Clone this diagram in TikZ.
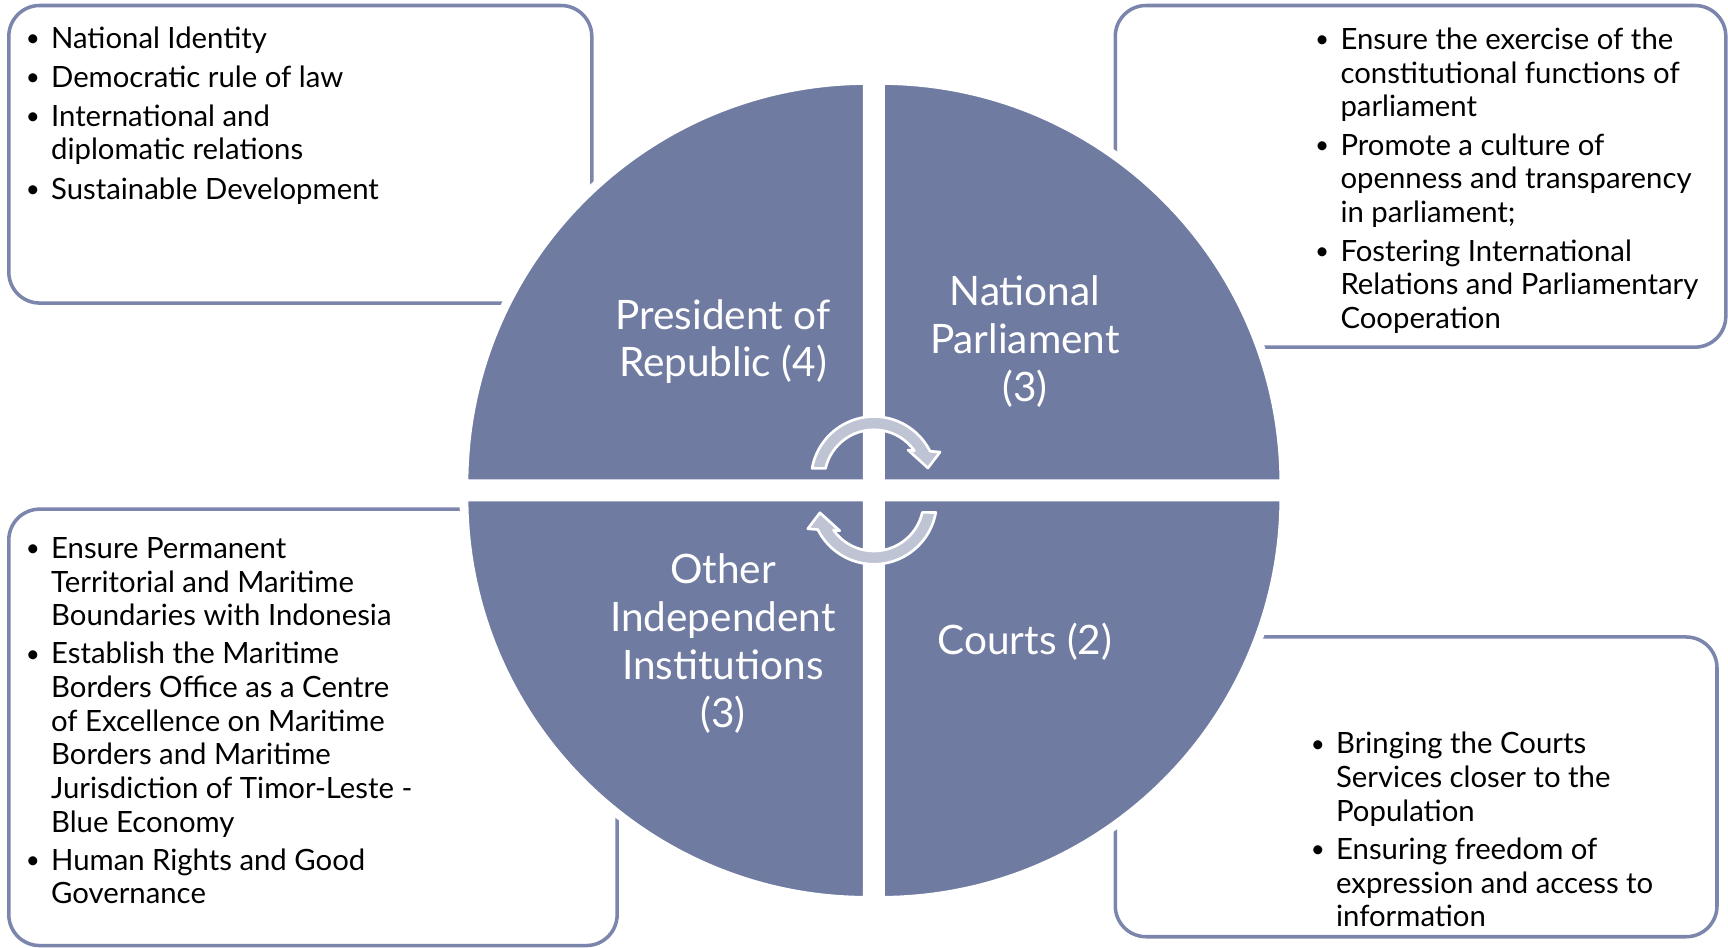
\documentclass[tikz,border=0pt]{standalone}
\usepackage{fontspec}
\setmainfont{Lato}
\definecolor{quadblue}{RGB}{112,123,161}
\definecolor{boxblue}{RGB}{124,134,173}
\definecolor{arrowgrey}{RGB}{191,196,212}
\newcommand{\bulitem}{\llap{\makebox[11.5pt][l]{\raisebox{0.8pt}{\fontsize{11}{12}\selectfont •}}}}

\begin{document}
\begin{tikzpicture}[x=0.5pt,y=0.5pt,
  boxframe/.style={draw=boxblue,line width=1.6pt,fill=white,rounded corners=14pt},
  quad/.style={fill=quadblue,draw=white,line width=4pt},
  turn/.style={fill=arrowgrey,draw=white,line width=1.2pt,line join=round},
  item/.style={anchor=base west,align=left,inner sep=0pt,font=\fontsize{13.3}{15.25}\selectfont},
  quadtext/.style={text=white,align=center,inner sep=0pt,font=\fontsize{18.4}{21.7}\selectfont}]

\useasboundingbox (0,0) rectangle (1568,-860);

% text boxes, behind the circle
\draw[boxframe] (8,-5) rectangle (537,-275);
\draw[boxframe] (1012,-5) rectangle (1566,-315);
\draw[boxframe] (8,-462) rectangle (560,-858);
\draw[boxframe] (1012,-578) rectangle (1558,-850);

% four quarters
\filldraw[quad] (787,-439) -- ++(-366,0) arc[start angle=180,end angle=90,radius=366] -- cycle;
\filldraw[quad] (799,-439) -- ++(0,366) arc[start angle=90,end angle=0,radius=366] -- cycle;
\filldraw[quad] (787,-451) -- ++(-366,0) arc[start angle=180,end angle=270,radius=366] -- cycle;
\filldraw[quad] (799,-451) -- ++(0,-366) arc[start angle=270,end angle=360,radius=366] -- cycle;

% circular arrows
\foreach \cy/\rot in {-435/0,-455/180}{
  \begin{scope}[shift={(793,\cy)},rotate=\rot]
    \filldraw[turn] (169.9:57) arc[start angle=169.9,end angle=26.6,radius=57]
      -- (60,24.8) -- (49,10.3) -- (31,26.6) -- (35.3:45)
      arc[start angle=35.3,end angle=167.2,radius=45] -- cycle;
  \end{scope}
}

% quarter labels
\node[quadtext] (pres) at (656,-310) {President of\\Republic (4)};
\node[quadtext] (parl) at (930,-310) {National\\Parliament\\(3)};
\node[quadtext] (other) at (656,-584) {Other\\Independent\\Institutions\\(3)};
\node[quadtext] (courts) at (930,-582) {Courts (2)};

% president (base = last line)
\node[item] (pr1) at (46,-44) {\bulitem National Identity};
\node[item] (pr2) at (46,-79) {\bulitem Democratic rule of law};
\node[item] (pr3) at (46,-145) {\bulitem International and\\diplomatic relations};
\node[item] (pr4) at (46,-181) {\bulitem Sustainable Development};

% parliament
\node[item] (pa1) at (1216,-106) {\bulitem Ensure the exercise of the\\constitutional functions of\\parliament};
\node[item] (pa2) at (1216,-202) {\bulitem Promote a culture of\\openness and transparency\\in parliament;};
\node[item] (pa3) at (1216,-298) {\bulitem Fostering International\\Relations and Parliamentary\\Cooperation};

% other institutions
\node[item] (ot1) at (46,-568) {\bulitem Ensure Permanent\\Territorial and Maritime\\Boundaries with Indonesia};
\node[item] (ot2) at (46,-755) {\bulitem Establish the Maritime\\Borders Office as a Centre\\of Excellence on Maritime\\Borders and Maritime\\Jurisdiction of Timor-Leste -\\Blue Economy};
\node[item] (ot3) at (46,-820) {\bulitem Human Rights and Good\\Governance};

% courts
\node[item] (co1) at (1212,-745) {\bulitem Bringing the Courts\\Services closer to the\\Population};
\node[item] (co2) at (1212,-841) {\bulitem Ensuring freedom of\\expression and access to\\information};
\end{tikzpicture}
\end{document}
